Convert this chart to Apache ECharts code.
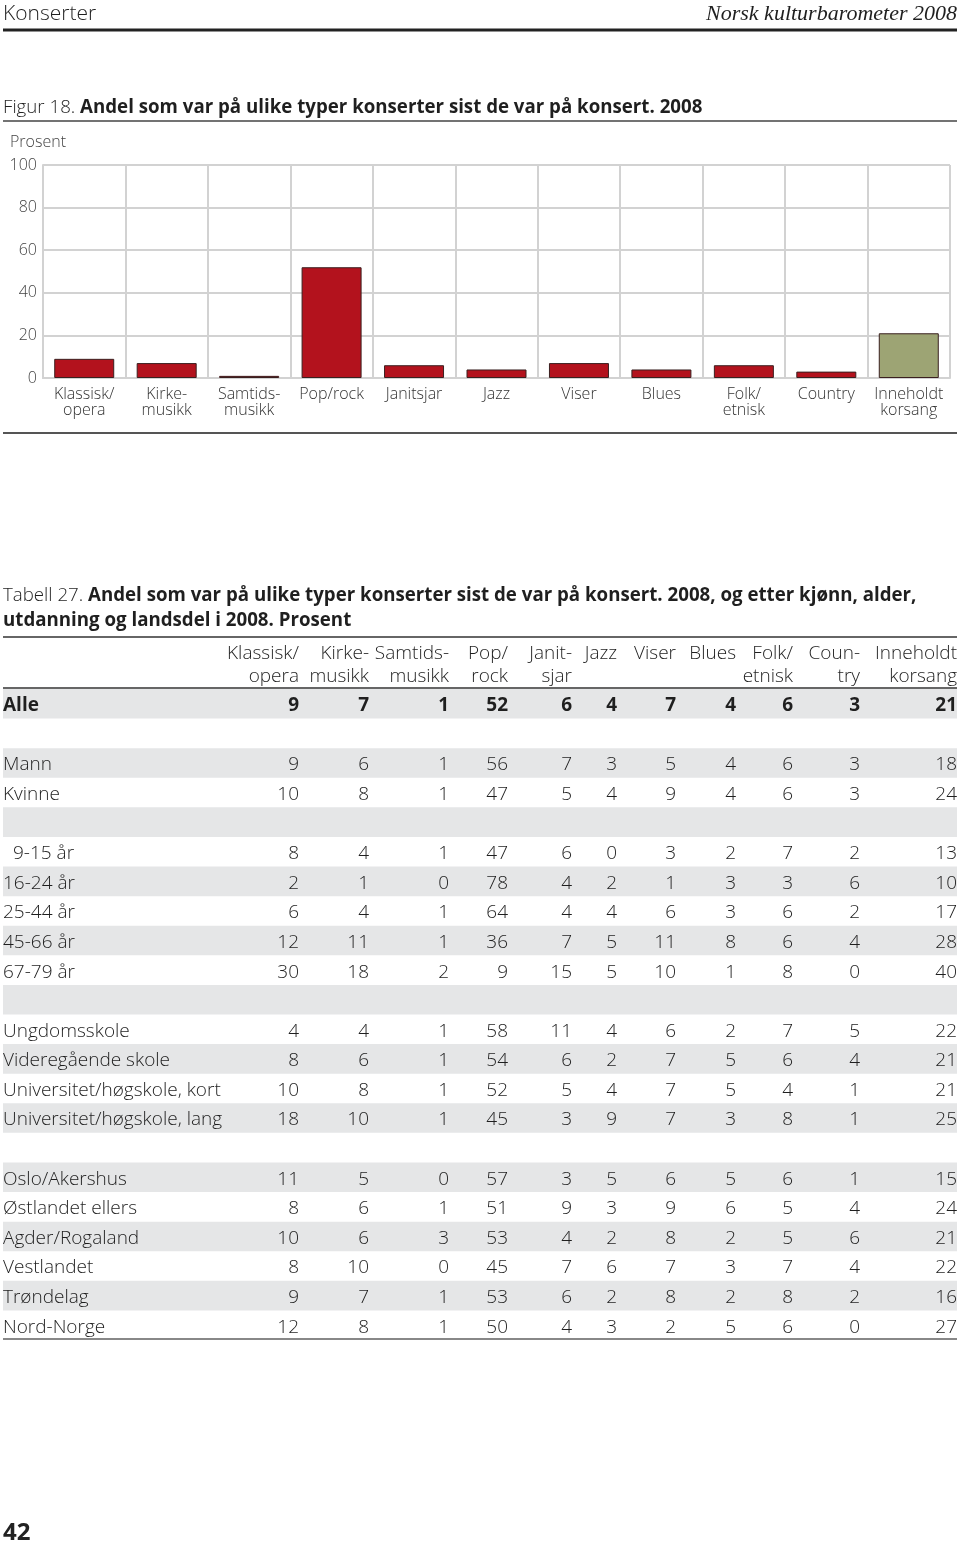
<!DOCTYPE html>
<html>
<head>
<meta charset="utf-8">
<script src="https://cdn.jsdelivr.net/npm/echarts@6/dist/echarts.min.js"></script>
<style>
    html, body, #main {
        width: 960px;
        height: 1545px;
        margin: 0;
        background: #fff;
    }
</style>
</head>
<body>
<div id="main"></div>
<script>
// figure 18
var concertTypes = ['Klassisk/\nopera', 'Kirke-\nmusikk', 'Samtids-\nmusikk', 'Pop/rock', 'Janitsjar',
    'Jazz', 'Viser', 'Blues', 'Folk/\netnisk', 'Country', 'Inneholdt\nkorsang'];
var figValues = [9, 7, 1, 52, 6, 4, 7, 4, 6, 3, 21];

// table 27
var tableHeads = [['Klassisk/', 'opera'], ['Kirke-', 'musikk'], ['Samtids-', 'musikk'], ['Pop/', 'rock'],
    ['Janit-', 'sjar'], ['Jazz', ''], ['Viser', ''], ['Blues', ''], ['Folk/', 'etnisk'], ['Coun-', 'try'],
    ['Inneholdt', 'korsang']];
var allRow = [9, 7, 1, 52, 6, 4, 7, 4, 6, 3, 21];
var genderLabels = ['Mann', 'Kvinne'];
var genderRows = [
    [9, 6, 1, 56, 7, 3, 5, 4, 6, 3, 18],
    [10, 8, 1, 47, 5, 4, 9, 4, 6, 3, 24]
];
var ageLabels = ['  9-15 år', '16-24 år', '25-44 år', '45-66 år', '67-79 år'];
var ageRows = [
    [8, 4, 1, 47, 6, 0, 3, 2, 7, 2, 13],
    [2, 1, 0, 78, 4, 2, 1, 3, 3, 6, 10],
    [6, 4, 1, 64, 4, 4, 6, 3, 6, 2, 17],
    [12, 11, 1, 36, 7, 5, 11, 8, 6, 4, 28],
    [30, 18, 2, 9, 15, 5, 10, 1, 8, 0, 40]
];
var eduLabels = ['Ungdomsskole', 'Videregående skole', 'Universitet/høgskole, kort', 'Universitet/høgskole, lang'];
var eduRows = [
    [4, 4, 1, 58, 11, 4, 6, 2, 7, 5, 22],
    [8, 6, 1, 54, 6, 2, 7, 5, 6, 4, 21],
    [10, 8, 1, 52, 5, 4, 7, 5, 4, 1, 21],
    [18, 10, 1, 45, 3, 9, 7, 3, 8, 1, 25]
];
var regionLabels = ['Oslo/Akershus', 'Østlandet ellers', 'Agder/Rogaland', 'Vestlandet', 'Trøndelag', 'Nord-Norge'];
var regionRows = [
    [11, 5, 0, 57, 3, 5, 6, 5, 6, 1, 15],
    [8, 6, 1, 51, 9, 3, 9, 6, 5, 4, 24],
    [10, 6, 3, 53, 4, 2, 8, 2, 5, 6, 21],
    [8, 10, 0, 45, 7, 6, 7, 3, 7, 4, 22],
    [9, 7, 1, 53, 6, 2, 8, 2, 8, 2, 16],
    [12, 8, 1, 50, 4, 3, 2, 5, 6, 0, 27]
];

// layout of table columns (right edges) -- not data
var colRight = [299, 369, 449, 508, 572, 617, 676, 736, 793, 860, 957];
var FONT = '"Open Sans", "Noto Sans", sans-serif';
var INK = '#1f1f1f';

// assemble rows: [label, values, bold]
var rows = [['Alle', allRow, true], ['', null]];
genderLabels.forEach(function (l, i) { rows.push([l, genderRows[i]]); });
rows.push(['', null]);
ageLabels.forEach(function (l, i) { rows.push([l, ageRows[i]]); });
rows.push(['', null]);
eduLabels.forEach(function (l, i) { rows.push([l, eduRows[i]]); });
rows.push(['', null]);
regionLabels.forEach(function (l, i) { rows.push([l, regionRows[i]]); });

var cellData = [];
var shadeData = [];
rows.forEach(function (r, i) {
    if (i % 2 === 0) shadeData.push([0, i]);
    if (r[0]) cellData.push([3, i, r[0].replace(/^ +/, ''), r[2] ? 1 : 0, 0, r[0].charAt(0) === ' ' ? 10 : 0]);
    if (r[1]) {
        r[1].forEach(function (v, j) {
            cellData.push([colRight[j], i, String(v), r[2] ? 1 : 0, 1, 0]);
        });
    }
});

var chart = echarts.init(document.getElementById('main'));

function txt(x, y, text, opt) {
    opt = opt || {};
    return {
        type: 'text', x: x, y: y,
        style: {
            text: text,
            font: opt.font || ('300 19px ' + FONT),
            fill: opt.fill || INK,
            align: opt.align || 'left',
            verticalAlign: 'middle',
            rich: opt.rich
        }
    };
}
function hline(y, x1, x2, w, c) {
    return { type: 'line', shape: { x1: x1, y1: y, x2: x2, y2: y }, style: { stroke: c, lineWidth: w } };
}

var graphics = [
    txt(3, 14, 'Konserter', { font: '300 21px ' + FONT }),
    txt(957, 14, 'Norsk kulturbarometer 2008', { font: 'italic 22px "Liberation Serif", serif', align: 'right' }),
    hline(30, 3, 957, 3, '#222'),
    txt(3, 108, '{n|Figur 18. }{b|Andel som var på ulike typer konserter sist de var på konsert. 2008}', {
        rich: {
            n: { font: '300 18.7px ' + FONT, fill: INK },
            b: { font: 'bold 18.7px ' + FONT, fill: INK }
        }
    }),
    hline(121, 3, 957, 1.5, '#444'),
    txt(10, 142, 'Prosent', { font: '300 16px ' + FONT, fill: '#444' }),
    hline(433, 3, 957, 2, '#555'),
    txt(3, 596, '{n|Tabell 27. }{b|Andel som var på ulike typer konserter sist de var på konsert. 2008, og etter kjønn, alder,}', {
        rich: {
            n: { font: '300 18.7px ' + FONT, fill: INK },
            b: { font: 'bold 18.7px ' + FONT, fill: INK }
        }
    }),
    txt(3, 621, 'utdanning og landsdel i 2008. Prosent', { font: 'bold 18.7px ' + FONT }),
    hline(637, 3, 957, 1.5, '#333'),
    hline(688, 3, 957, 1.5, '#333'),
    hline(1339, 3, 957, 2, '#888'),
    txt(3, 1533, '42', { font: 'bold 24px ' + FONT, fill: '#222' })
];
tableHeads.forEach(function (h, j) {
    graphics.push(txt(colRight[j], 654, h[0], { align: 'right' }));
    if (h[1]) graphics.push(txt(colRight[j], 677, h[1], { align: 'right' }));
});

chart.setOption({
    animation: false,
    textStyle: { fontFamily: FONT },
    grid: [
        { left: 43, right: 10, top: 165, height: 213 },
        { left: 0, top: 689, width: 960, height: 651 }
    ],
    xAxis: [{
        gridIndex: 0,
        type: 'category',
        data: concertTypes,
        axisLine: { lineStyle: { color: '#d2d2d2', width: 2 } },
        axisTick: { show: false },
        splitLine: { show: true, lineStyle: { color: '#d2d2d2', width: 2 } },
        axisLabel: { color: '#333', fontSize: 16, fontWeight: 300, lineHeight: 16, margin: 8, interval: 0 }
    }, {
        gridIndex: 1,
        type: 'value',
        min: 0,
        max: 960,
        show: false
    }],
    yAxis: [{
        gridIndex: 0,
        type: 'value',
        min: 0,
        max: 100,
        interval: 20,
        axisLine: { show: true, lineStyle: { color: '#d2d2d2', width: 2 } },
        axisTick: { show: false },
        splitLine: { lineStyle: { color: '#d2d2d2', width: 2 } },
        axisLabel: { color: '#444', fontSize: 16, fontWeight: 300, margin: 6 }
    }, {
        gridIndex: 1,
        type: 'category',
        data: rows.map(function (r, i) { return String(i); }),
        inverse: true,
        show: false
    }],
    graphic: graphics,
    series: [{
        type: 'bar',
        xAxisIndex: 0,
        yAxisIndex: 0,
        barWidth: 60,
        data: figValues.map(function (v, i) {
            return {
                value: v,
                itemStyle: { color: i === figValues.length - 1 ? '#9da474' : '#b3121d' }
            };
        }),
        itemStyle: { borderColor: '#3a2020', borderWidth: 1 }
    }, {
        type: 'custom',
        xAxisIndex: 1,
        yAxisIndex: 1,
        data: shadeData,
        encode: { x: 0, y: 1 },
        renderItem: function (params, api) {
            var p = api.coord([0, api.value(1)]);
            var h = api.size([0, 1])[1];
            return {
                type: 'rect',
                shape: { x: 3, y: p[1] - h / 2, width: 954, height: h },
                style: { fill: '#e5e6e7' }
            };
        }
    }, {
        type: 'custom',
        xAxisIndex: 1,
        yAxisIndex: 1,
        data: cellData,
        encode: { x: 0, y: 1 },
        z: 3,
        renderItem: function (params, api) {
            var item = cellData[params.dataIndex];
            var p = api.coord([api.value(0), api.value(1)]);
            return {
                type: 'text',
                x: p[0] + item[5],
                y: p[1] + 2,
                style: {
                    text: item[2],
                    font: (item[3] ? 'bold ' : '300 ') + '19px ' + FONT,
                    fill: INK,
                    align: item[4] ? 'right' : 'left',
                    verticalAlign: 'middle'
                }
            };
        }
    }]
});
</script>
</body>
</html>
